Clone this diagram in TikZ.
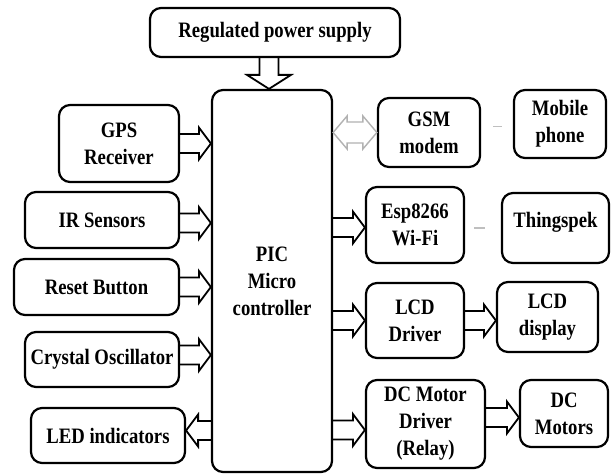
\documentclass[tikz,border=0pt]{standalone}
\usepackage{fontspec}
\setmainfont[FakeStretch=0.85]{Liberation Serif}
\usetikzlibrary{calc}
\tikzset{
  box/.style={draw, line width=2.2pt, rounded corners=11pt, align=center, inner sep=0pt,
    font=\bfseries\fontsize{22}{27}\selectfont},
  barr/.style={line width=1.8pt, to path={
    ($(\tikztostart)+(0,9.5)$) -- ($(\tikztotarget)+(-12,9.5)$) -- ($(\tikztotarget)+(-12,16)$) --
    (\tikztotarget) -- ($(\tikztotarget)+(-12,-16)$) -- ($(\tikztotarget)+(-12,-9.5)$) -- ($(\tikztostart)+(0,-9.5)$)}},
  barrl/.style={line width=1.8pt, to path={
    ($(\tikztostart)+(0,9.5)$) -- ($(\tikztotarget)+(12,9.5)$) -- ($(\tikztotarget)+(12,16)$) --
    (\tikztotarget) -- ($(\tikztotarget)+(12,-16)$) -- ($(\tikztotarget)+(12,-9.5)$) -- ($(\tikztostart)+(0,-9.5)$)}},
  barrd/.style={line width=1.8pt, to path={
    ($(\tikztostart)+(9.5,0)$) -- ($(\tikztotarget)+(9.5,-14)$) -- ($(\tikztotarget)+(22,-14)$) --
    (\tikztotarget) -- ($(\tikztotarget)+(-22,-14)$) -- ($(\tikztotarget)+(-9.5,-14)$) -- ($(\tikztostart)+(-9.5,0)$)}},
  dblarr/.style={draw=gray!60, line width=1.4pt, to path={
    (\tikztostart) -- ($(\tikztostart)+(14,-16.5)$) -- ($(\tikztostart)+(14,-10.5)$) --
    ($(\tikztotarget)+(-14,-10.5)$) -- ($(\tikztotarget)+(-14,-16.5)$) -- (\tikztotarget) --
    ($(\tikztotarget)+(-14,16.5)$) -- ($(\tikztotarget)+(-14,10.5)$) --
    ($(\tikztostart)+(14,10.5)$) -- ($(\tikztostart)+(14,16.5)$) -- cycle}},
  dashlink/.style={draw=gray!50, line width=1.2pt}
}
\begin{document}
\begin{tikzpicture}[x=1pt,y=-1pt]
\useasboundingbox (0,0) rectangle (611,476);
\fill[white] (0,0) rectangle (611,476);

\node[box, minimum width=250pt, minimum height=49pt] (pow) at (275,32.5) {Regulated power supply};
\node[box, minimum width=120pt, minimum height=382pt] (pic) at (272,281) {PIC\\Micro\\controller};

\node[box, minimum width=120pt, minimum height=77pt] (gps) at (119,143.5) {GPS\\Receiver};
\node[box, minimum width=154pt, minimum height=56pt] (ir) at (102,220) {IR Sensors};
\node[box, minimum width=165pt, minimum height=56pt] (rst) at (96.5,287) {Reset Button};
\node[box, minimum width=154pt, minimum height=55pt] (xtal) at (102,359.5) {Crystal Oscillator};
\node[box, minimum width=154pt, minimum height=55pt] (led) at (108,435.5) {LED indicators};

\node[box, minimum width=102pt, minimum height=69pt] (gsm) at (429,132.5) {GSM\\modem};
\node[box, minimum width=92pt, minimum height=68pt] (mob) at (560,124) {Mobile\\phone};
\node[box, minimum width=98pt, minimum height=76pt] (esp) at (415,225) {Esp8266\\Wi-Fi};
\node[box, minimum width=107pt, minimum height=70pt, text depth=16pt] (thg) at (555.5,228) {Thingspek};
\node[box, minimum width=98pt, minimum height=75pt] (lcdd) at (415,320.5) {LCD\\Driver};
\node[box, minimum width=101pt, minimum height=70pt] (lcd) at (547.5,317) {LCD\\display};
\node[box, minimum width=119pt, minimum height=88pt] (dcd) at (425.5,424) {DC Motor\\Driver\\(Relay)};
\node[box, minimum width=88pt, minimum height=67pt] (dcm) at (564,413.5) {DC\\Motors};

% anchor points for arrows
\coordinate (p0) at ([xshift=-6pt]pow.south);
\coordinate (p1) at (p0 |- pic.north);
\coordinate (a1) at (gps.east);            \coordinate (b1) at (a1 -| pic.west);
\coordinate (a2) at ([yshift=-3pt]ir.east); \coordinate (b2) at (a2 -| pic.west);
\coordinate (a3) at (rst.east);            \coordinate (b3) at (a3 -| pic.west);
\coordinate (a4) at ([yshift=4.5pt]xtal.east); \coordinate (b4) at (a4 -| pic.west);
\coordinate (a5) at ([yshift=5pt]led.east); \coordinate (b5) at (a5 -| pic.west);
\coordinate (g1) at (gsm.west); \coordinate (g0) at (g1 -| pic.east);
\coordinate (e1) at ([yshift=-2.5pt]esp.west); \coordinate (e0) at (e1 -| pic.east);
\coordinate (l1) at (lcdd.west); \coordinate (l0) at (l1 -| pic.east);
\coordinate (l2) at (lcdd.east); \coordinate (l3) at (l2 -| lcd.west);
\coordinate (d1) at ([yshift=-6pt]dcd.west); \coordinate (d0) at (d1 -| pic.east);
\coordinate (d2) at ([yshift=6.5pt]dcd.east); \coordinate (d3) at (d2 -| dcm.west);

\draw[barrd] (p0) to (p1);
\draw[barr] (a1) to (b1);
\draw[barr] (a2) to (b2);
\draw[barr] (a3) to (b3);
\draw[barr] (a4) to (b4);
\draw[barrl] (b5) to (a5);
\draw[dblarr] (g0) to (g1);
\draw[barr] (e0) to (e1);
\draw[barr] (l0) to (l1);
\draw[barr] (l2) to (l3);
\draw[barr] (d0) to (d1);
\draw[barr] (d2) to (d3);

\draw[dashlink, shorten <=12pt, shorten >=11pt] ([yshift=6pt]gsm.east) -- ([yshift=6pt]gsm.east -| mob.west);
\draw[dashlink, shorten <=9pt, shorten >=16pt] ([yshift=-3pt]esp.east) -- ([yshift=-3pt]esp.east -| thg.west);
\end{tikzpicture}
\end{document}
